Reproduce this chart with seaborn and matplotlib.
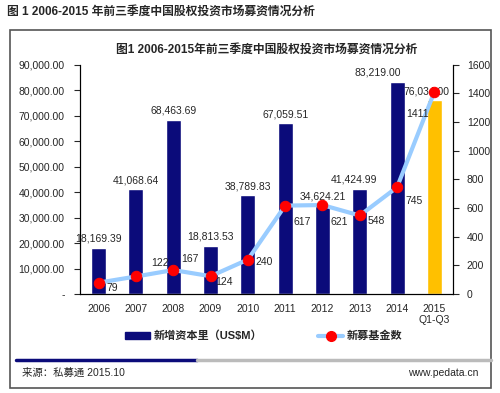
import numpy as np
import matplotlib
matplotlib.use("Agg")
import matplotlib.pyplot as plt
import seaborn as sns
from matplotlib.patches import Patch, Rectangle
from matplotlib.lines import Line2D

# data
years = ["2006", "2007", "2008", "2009", "2010", "2011", "2012", "2013", "2014", "2015\nQ1-Q3"]
new_capital = [18169.39, 41068.64, 68463.69, 18813.53, 38789.83, 67059.51, 34624.21, 41424.99, 83219.00, 76034.00]
new_funds = [79, 122, 167, 124, 240, 617, 621, 548, 745, 1411]

bar_colors = ["#0b0b7a"] * 9 + ["#ffc000"]

sns.set_style("white")
plt.rcParams["font.family"] = ["Liberation Sans", "Noto Sans CJK SC", "DejaVu Sans"]

fig = plt.figure(figsize=(5, 3.93), dpi=100)
ax = fig.add_axes([0.16, 0.252, 0.746, 0.583])

sns.barplot(x=years, y=new_capital, hue=years, palette=bar_colors,
            legend=False, width=0.4, saturation=1, ax=ax)
ax.set_ylim(0, 90000)
ax.set_xlim(-0.5, len(years) - 0.5)
ax.set_yticks(np.arange(0, 90001, 10000))
ax.set_yticklabels(["-"] + [f"{v:,.2f}" for v in range(10000, 90001, 10000)])
ax.tick_params(axis="y", labelsize=7.5, length=4, direction="out", left=True, pad=7)
ax.tick_params(axis="x", labelsize=7.5, length=0, pad=7)
ax.set_xlabel("")
ax.set_ylabel("")

# bar value labels
bar_dx = [0, 0, 0, 0, 0, 0, 0, -4, -14, -6]
for i, v in enumerate(new_capital):
    ax.annotate(f"{v:,.2f}", (i, v), xytext=(bar_dx[i], 3), textcoords="offset points",
                ha="center", va="bottom", fontsize=7.5)

ax2 = ax.twinx()
sns.lineplot(x=np.arange(len(years)), y=new_funds, ax=ax2, color="#99ccff", lw=3,
             marker="o", markersize=7.5, markerfacecolor="#ff0000",
             markeredgecolor="#ff0000")
ax2.set_ylim(0, 1600)
ax2.set_yticks(np.arange(0, 1601, 200))
ax2.tick_params(axis="y", labelsize=7.5, length=4, direction="out", right=True, pad=6)

# line value labels
line_off = [(10, -4), (17, 10), (12, 8), (10, -4), (12, -2), (12, -12), (12, -12), (12, -4), (12, -10), (-12, -16)]
for i, v in enumerate(new_funds):
    dx, dy = line_off[i]
    ax2.annotate(str(v), (i, v), xytext=(dx, dy), textcoords="offset points",
                 ha="center", va="center", fontsize=7.5)

for a in (ax, ax2):
    a.spines["top"].set_visible(False)
    for s in ("left", "right", "bottom"):
        a.spines[s].set_color("black")
        a.spines[s].set_linewidth(0.8)

# titles
fig.text(0.014, 0.969, "图 1 2006-2015 年前三季度中国股权投资市场募资情况分析",
         fontsize=8.5, fontweight="bold", ha="left", va="center")
fig.text(0.533, 0.873, "图1 2006-2015年前三季度中国股权投资市场募资情况分析",
         fontsize=8.5, fontweight="bold", ha="center", va="center")

# legend
handles = [Patch(color="#0b0b7a"),
           Line2D([], [], color="#99ccff", lw=3, marker="o", markersize=7,
                  markerfacecolor="#ff0000", markeredgecolor="#ff0000")]
fig.legend(handles, ["新增资本里（US$M）", "新募基金数"], loc="center",
           bbox_to_anchor=(0.528, 0.145), ncol=2, frameon=False,
           prop={"size": 8, "weight": "bold"}, columnspacing=5,
           handlelength=2.2, handleheight=0.5, handletextpad=0.4)

# frame and footer
fig.patches.append(Rectangle((0.02, 0.0127), 0.962, 0.911, transform=fig.transFigure,
                             fill=False, edgecolor="#555555", lw=1.2))
fig.add_artist(Line2D([0.032, 0.394], [0.084, 0.084], color="#0b0b7a", lw=2.5))
fig.add_artist(Line2D([0.394, 0.982], [0.084, 0.084], color="#bbbbbb", lw=2.5))
fig.text(0.044, 0.051, "来源：私募通 2015.10", fontsize=7.5, ha="left", va="center")
fig.text(0.956, 0.051, "www.pedata.cn", fontsize=7.5, ha="right", va="center")

fig.savefig("out.png", dpi=100)
